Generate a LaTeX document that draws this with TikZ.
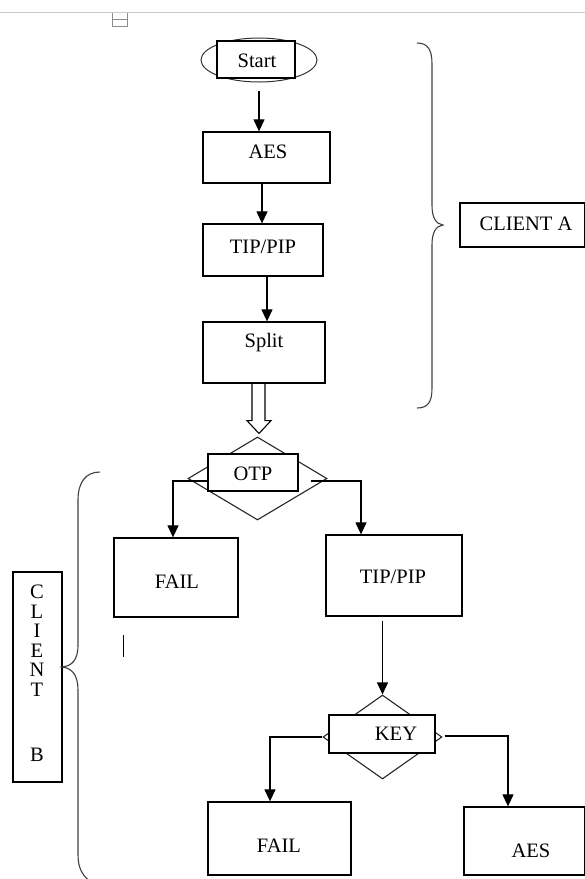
\documentclass[tikz,border=0pt]{standalone}
\usepackage{fontspec}
\setmainfont{Liberation Serif}
\usetikzlibrary{arrows.meta,shapes.geometric,calc}
\begin{document}
\begin{tikzpicture}[x=1pt,y=-1pt,
  box/.style={draw=black,line width=1.3pt,fill=white,inner sep=0pt},
  dia/.style={draw=black!85,line width=1.1pt,diamond,inner sep=0pt},
  txt/.style={anchor=base,inner sep=0pt,font=\fontsize{20.5}{19.5}\selectfont},
  arr/.style={line width=1.2pt,-{Triangle[length=12pt,width=11pt]}},
  brace/.style={draw=black!75,line width=1.1pt},
  conn/.style={line width=1.1pt}]
\useasboundingbox (0,0) rectangle (585,879);
\clip (0,0) rectangle (585,879);
% top rule and small icon
\draw[black!20,line width=1pt] (0,12) -- (585,12);
\draw[black!45,line width=0.8pt] (112,13) -- (112,26) -- (127,26) -- (127,13) (112,19) -- (127,19);
% Start
\node[draw=black!80,ellipse,line width=1pt,minimum width=116,minimum height=44,inner sep=0pt] (startE) at (259,60) {};
\node[box,minimum width=78,minimum height=37] (start) at (256,59.5) {};
\node[txt] (startT) at (257,67) {Start};
% client A column
\node[box,minimum width=127,minimum height=51] (aes1) at (266.5,157.5) {};
\node[txt] (aes1T) at (268,158) {AES};
\node[box,minimum width=120,minimum height=52] (tip1) at (263,250) {};
\node[txt] (tip1T) at (263,253) {TIP/PIP};
\node[box,minimum width=122,minimum height=61] (split) at (264,352.5) {};
\node[txt] (splitT) at (264,347) {Split};
% OTP
\node[dia,minimum width=139,minimum height=83] (otpD) at (257.5,478.5) {};
\node[box,minimum width=90,minimum height=37] (otp) at (253,472.5) {};
\node[txt] (otpT) at (253,480) {OTP};
\node[box,minimum width=124,minimum height=79] (fail1) at (176,577.5) {};
\node[txt] (fail1T) at (177,588) {FAIL};
\node[box,minimum width=136,minimum height=81] (tip2) at (394,575.5) {};
\node[txt] (tip2T) at (393,583) {TIP/PIP};
% KEY
\node[dia,minimum width=119,minimum height=84] (keyD) at (382.5,737) {};
\node[box,minimum width=106,minimum height=38] (key) at (382,734) {};
\node[txt] (keyT) at (396,740) {KEY};
\node[box,minimum width=143,minimum height=73] (fail2) at (279.5,838.5) {};
\node[txt] (fail2T) at (279,852) {FAIL};
\node[box,minimum width=121,minimum height=68] (aes2) at (524.5,841) {};
\node[txt] (aes2T) at (531,857) {AES};
% client labels
\node[box,minimum width=125,minimum height=44] (clientA) at (522.5,225) {};
\node[txt] (clientAT) at (526,230) {CLIENT A};
\node[box,minimum width=49,minimum height=210] (clientB) at (37.5,677) {};
\node[anchor=north,inner sep=0pt,align=center,font=\fontsize{20.5}{19.5}\selectfont] (clientBT) at (37,585) {C\\L\\I\\E\\N\\T\\[45.5pt]B};
% connectors
\draw[arr] ([yshift=-8pt]startE.south) -- (startE.south |- aes1.north);
\draw[arr] ([xshift=-4.5pt]aes1.south) -- ([xshift=-4.5pt]aes1.south |- tip1.north);
\draw[arr] ([xshift=4pt]tip1.south) -- ([xshift=4pt]tip1.south |- split.north);
\draw[conn] ($(split.south)+(-12,0)$) -- ++(0,37) -- ++(-5,0) -- ($(otpD.north)+(1.5,-3)$) -- ($(split.south)+(7,37)$) -- ++(-6,0) -- ($(split.south)+(1,0)$);
\draw[arr] ($(otp.west)+(0,8.5)$) -| ([xshift=-3pt]fail1.north);
\draw[arr] ($(otp.east)+(12,8.5)$) -| ([xshift=-33pt]tip2.north);
\draw[arr] ([yshift=-4pt]tip2.south -| keyD.north) -- (keyD.north);
\draw[arr] (keyD.west) -| ([xshift=-9.5pt]fail2.north);
\draw[arr] ($(keyD.east)+(2,-1)$) -| ([xshift=-16.5pt]aes2.north);
% braces
\draw[brace] (417,43) .. controls (428,43) and (432,50) .. (432,64) -- (432,205) .. controls (432,218) and (436,224) .. (443,225) .. controls (436,226) and (432,232) .. (432,245) -- (432,388) .. controls (432,402) and (428,408) .. (417,408);
\draw[brace] (100,472) .. controls (86,472) and (78,482) .. (78,500) -- (78,645) .. controls (78,660) and (72,666) .. (62,667) .. controls (72,668) and (78,675) .. (78,690) -- (78,855) .. controls (78,870) and (84,878) .. (94,884);
% text cursor
\draw[line width=1pt] (123,635) -- (123,657);
\end{tikzpicture}
\end{document}
